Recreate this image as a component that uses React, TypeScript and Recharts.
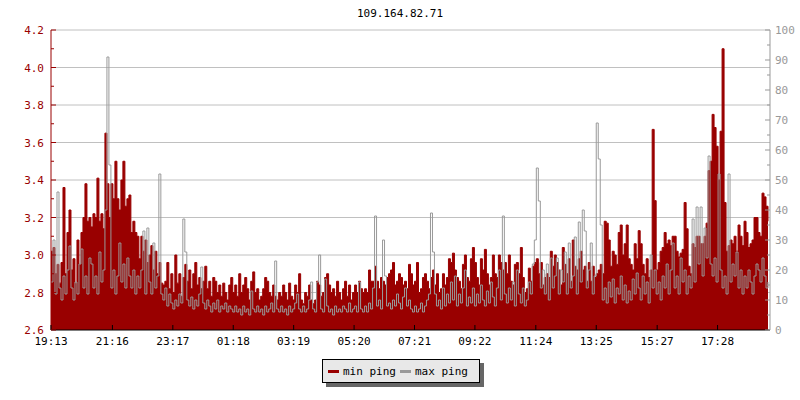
import { ComposedChart, Area, Line, XAxis, YAxis, CartesianGrid } from "recharts";

const TITLE = "109.164.82.71";

// x axis: minutes since 19:13
const TIME_TICKS = [0, 123, 244, 365, 486, 607, 728, 849, 971, 1092, 1214, 1335];
const TIME_LABELS = ["19:13", "21:16", "23:17", "01:18", "03:19", "05:20", "07:21", "09:22", "11:24", "13:25", "15:27", "17:28"];
const SAMPLE_STEP = 4;

const LEFT_TICKS = [2.6, 2.7, 2.8, 2.9, 3.0, 3.1, 3.2, 3.3, 3.4, 3.5, 3.6, 3.7, 3.8, 3.9, 4.0, 4.1, 4.2];
const LEFT_GRID = [2.8, 3.0, 3.2, 3.4, 3.6, 3.8, 4.0, 4.2];
const RIGHT_TICKS = [0, 5, 10, 15, 20, 25, 30, 35, 40, 45, 50, 55, 60, 65, 70, 75, 80, 85, 90, 95, 100];

// min ping (left axis)
const MIN_PING = [
  3.02, 3.04, 2.9, 2.95, 2.85, 2.96, 3.36, 2.9, 3.12, 3.24,
  2.92, 2.98, 2.85, 3.08, 2.95, 3.12, 3.2, 3.38, 3.18, 3.2,
  3.15, 3.22, 3.2, 3.41, 3.18, 3.22, 3.14, 3.65, 3.38, 3.2,
  3.38, 3.3, 3.5, 3.3, 3.24, 3.4, 3.5, 3.26, 3.3, 3.32,
  3.12, 3.18, 3.12, 3.1, 2.98, 3.1, 3.02, 3.08, 2.96, 3.0,
  3.05, 2.92, 3.02, 2.9, 2.96, 2.85, 2.84, 2.86, 2.96, 2.82,
  2.9, 2.8, 3.0, 2.85, 2.9, 2.78, 2.88, 2.95, 2.86, 2.92,
  2.82, 2.9, 2.96, 2.84, 2.88, 2.82, 2.86, 2.94, 2.82, 2.86,
  2.78, 2.88, 2.86, 2.8, 2.84, 2.78, 2.85, 2.8, 2.76, 2.84,
  2.88, 2.8, 2.84, 2.78, 2.9, 2.8, 2.84, 2.88, 2.82, 2.76,
  2.86, 2.91, 2.8, 2.82, 2.76, 2.78, 2.82, 2.88, 2.86, 2.8,
  2.78, 2.84, 2.78, 2.76, 2.8, 2.78, 2.84, 2.8, 2.76, 2.85,
  2.78, 2.76, 2.84, 2.8, 2.9, 2.76, 2.74, 2.8, 2.78, 2.84,
  2.76, 2.74, 2.76, 2.86, 2.84, 2.78, 2.8, 2.88, 2.9, 2.84,
  2.8, 2.82, 2.78, 2.86, 2.8, 2.76, 2.82, 2.86, 2.78, 2.84,
  2.76, 2.8, 2.84, 2.8, 2.86, 2.82, 2.8, 2.82, 2.8, 2.92,
  2.86, 2.86, 2.94, 2.86, 2.82, 2.88, 2.86, 2.84, 2.88, 2.9,
  2.92, 2.96, 2.84, 2.86, 2.9, 2.88, 2.84, 2.86, 2.82, 2.95,
  2.9, 2.84, 2.86, 2.96, 2.8, 2.82, 2.88, 2.9, 2.86, 2.82,
  2.88, 2.92, 2.84, 2.9, 2.8, 2.82, 2.9, 2.84, 2.88, 2.98,
  2.96, 3.01, 2.92, 2.88, 2.86, 2.82, 2.95, 3.0, 2.88, 2.86,
  2.98, 3.04, 2.96, 2.88, 2.84, 2.98, 2.92, 3.03, 2.9, 2.84,
  2.88, 3.0, 2.9, 2.88, 3.0, 2.96, 2.92, 2.96, 2.9, 3.0,
  2.86, 2.84, 2.95, 2.96, 2.9, 3.04, 2.88, 2.8, 2.82, 2.93,
  2.86, 2.94, 2.96, 2.98, 2.9, 2.96, 2.84, 2.88, 2.9, 2.88,
  3.02, 2.94, 3.0, 2.96, 2.92, 2.84, 3.04, 2.95, 2.9, 2.98,
  2.86, 3.08, 2.94, 2.92, 2.98, 3.02, 2.92, 2.94, 2.86, 2.96,
  2.86, 2.94, 2.88, 2.9, 2.92, 2.95, 2.9, 3.18, 3.17, 3.08,
  2.94, 3.02, 3.0, 2.95, 3.12, 3.16, 3.0, 3.06, 3.16, 2.98,
  2.95, 2.92, 3.06, 2.98, 3.13, 3.06, 2.95, 2.9, 2.98, 2.88,
  2.92, 3.67, 3.29, 2.92, 2.96, 3.02, 3.04, 3.12, 3.06, 3.08,
  3.05, 3.1, 3.1, 3.02, 2.99, 3.01, 3.03, 3.28, 3.14, 2.94,
  2.9, 3.06, 3.04, 3.1, 3.1, 3.06, 3.06, 3.1, 3.17, 3.45,
  3.5, 3.75, 3.68, 3.58, 3.4, 3.66, 4.1, 3.28, 3.02, 3.05,
  3.08, 3.06, 3.1, 3.02, 3.16, 3.1, 3.05, 3.18, 3.12, 3.04,
  3.06, 3.08, 3.2, 3.2, 3.12, 3.1, 3.33, 3.31, 3.26, 3.18,
];

// max ping (right axis, ms)
const MAX_PING = [
  16, 30, 12, 46, 14, 10, 18, 12, 20, 28,
  14, 10, 16, 12, 22, 27, 14, 18, 12, 24,
  22, 14, 18, 12, 26, 16, 20, 40, 91, 55,
  14, 20, 12, 18, 29, 16, 22, 14, 24, 18,
  14, 20, 12, 18, 14, 20, 33, 12, 34, 16,
  12, 29, 14, 18, 52, 12, 10, 14, 8, 12,
  9, 7, 10, 8, 12, 9, 37, 26, 10, 8,
  11, 7, 10, 8, 12, 21, 9, 7, 10, 8,
  6, 9, 7, 10, 6, 8, 7, 9, 6, 8,
  7, 6, 8, 6, 7, 5, 8, 6, 7, 5,
  13, 7, 6, 8, 6, 7, 5, 8, 6, 7,
  9, 6, 23, 7, 6, 8, 6, 7, 5, 8,
  6, 7, 9, 12, 7, 6, 8, 6, 7, 10,
  16, 7, 6, 16, 25, 7, 6, 17, 8, 6,
  7, 5, 8, 6, 7, 6, 8, 7, 6, 9,
  6, 7, 8, 6, 16, 7, 6, 8, 6, 9,
  7, 14, 38, 8, 10, 7, 30, 18, 8, 9,
  7, 10, 8, 12, 9, 7, 11, 14, 8, 10,
  7, 6, 8, 6, 7, 9, 6, 8, 10, 12,
  39, 26, 12, 8, 10, 7, 14, 8, 12, 9,
  16, 10, 18, 8, 12, 9, 14, 20, 8, 11,
  9, 14, 8, 12, 9, 15, 10, 8, 13, 9,
  16, 11, 8, 14, 20, 10, 38, 12, 9, 14,
  10, 16, 8, 20, 12, 9, 14, 8, 10, 16,
  12, 22, 30, 54, 43, 14, 20, 12, 22, 10,
  24, 14, 18, 24, 12, 20, 16, 26, 12, 29,
  14, 18, 31, 12, 36, 16, 40, 33, 14, 20,
  29, 12, 18, 69, 57, 35, 10, 14, 9, 16,
  11, 17, 9, 14, 12, 18, 10, 15, 9, 13,
  10, 17, 12, 19, 14, 10, 18, 12, 16, 9,
  25, 14, 20, 12, 16, 10, 18, 14, 22, 12,
  20, 29, 14, 18, 12, 24, 16, 20, 12, 18,
  14, 37, 16, 41, 22, 41, 18, 34, 24, 58,
  22, 18, 24, 16, 52, 20, 14, 18, 12, 52,
  16, 22, 18, 26, 14, 20, 12, 18, 14, 20,
  16, 12, 18, 22, 20, 16, 24, 18, 14, 16,
];

const data = MIN_PING.map((v, i) => ({ t: i * SAMPLE_STEP, min: v, max: MAX_PING[i] }));

const RED = "#990000";
const GRAY = "#999999";
const FONT = "'DejaVu Sans Mono', monospace";
const PLOT_LEFT = 51;
const PLOT_RIGHT = 770;
const PLOT_BOTTOM = 330;

const LeftTick = (props: any) => {
  const { y, payload } = props;
  const v = payload.value;
  const major = Math.round(v * 10) % 2 === 0;
  return (
    <g>
      <line x1={PLOT_LEFT} x2={PLOT_LEFT + (major ? 5 : 3)} y1={y} y2={y} stroke={RED} />
      {major && (
        <text x={44} y={y + 4} textAnchor="end" fill={RED} fontSize={11} fontFamily={FONT}>
          {v.toFixed(1)}
        </text>
      )}
    </g>
  );
};

const RightTick = (props: any) => {
  const { y, payload } = props;
  const v = payload.value;
  const major = v % 10 === 0;
  return (
    <g>
      <line x1={PLOT_RIGHT} x2={PLOT_RIGHT - (major ? 5 : 3)} y1={y} y2={y} stroke={GRAY} />
      {major && (
        <text x={775} y={y + 4} textAnchor="start" fill={GRAY} fontSize={11} fontFamily={FONT}>
          {v}
        </text>
      )}
    </g>
  );
};

const TimeTick = (props: any) => {
  const { x, payload } = props;
  const label = TIME_LABELS[TIME_TICKS.indexOf(payload.value)];
  return (
    <g>
      <line x1={x} x2={x} y1={PLOT_BOTTOM} y2={PLOT_BOTTOM - 5} stroke="#000" />
      <text x={x} y={345} textAnchor="middle" fill="#000" fontSize={11} fontFamily={FONT}>
        {label}
      </text>
    </g>
  );
};

export default function App() {
  return (
    <div style={{ position: "absolute", left: 0, top: 0, width: 800, height: 400, background: "#fff" }}>
      <div
        style={{
          position: "absolute",
          top: 7,
          width: 800,
          textAlign: "center",
          fontFamily: FONT,
          fontSize: 11,
          color: "#000",
        }}
      >
        {TITLE}
      </div>
      <ComposedChart width={800} height={400} data={data} margin={{ top: 30, right: 0, bottom: 40, left: 6 }}>
        <CartesianGrid yAxisId="left" vertical={false} horizontalValues={LEFT_GRID} stroke="#c0c0c0" />
        <XAxis
          dataKey="t"
          type="number"
          domain={[0, 1440]}
          ticks={TIME_TICKS}
          tick={<TimeTick />}
          tickLine={false}
          axisLine={{ stroke: "#000" }}
          height={30}
          interval={0}
        />
        <YAxis
          yAxisId="left"
          domain={[2.6, 4.2]}
          ticks={LEFT_TICKS}
          tick={<LeftTick />}
          tickLine={false}
          axisLine={{ stroke: RED }}
          width={45}
          interval={0}
          allowDataOverflow
        />
        <YAxis
          yAxisId="right"
          orientation="right"
          domain={[0, 100]}
          ticks={RIGHT_TICKS}
          tick={<RightTick />}
          tickLine={false}
          axisLine={{ stroke: GRAY }}
          width={30}
          interval={0}
          allowDataOverflow
        />
        <Area
          yAxisId="left"
          dataKey="min"
          type="stepAfter"
          stroke={RED}
          fill={RED}
          fillOpacity={1}
          dot={false}
          activeDot={false}
          isAnimationActive={false}
        />
        <Line
          yAxisId="right"
          dataKey="max"
          type="stepAfter"
          stroke={GRAY}
          strokeWidth={1}
          dot={false}
          activeDot={false}
          isAnimationActive={false}
        />
      </ComposedChart>
      <div
        style={{
          position: "absolute",
          left: 322,
          top: 359,
          width: 151,
          height: 22,
          border: "1px solid #000",
          background: "#e8e8e8",
          boxShadow: "4px 4px 0 #666",
          fontFamily: FONT,
          fontSize: 11,
          display: "flex",
          alignItems: "center",
          paddingLeft: 5,
          boxSizing: "content-box",
        }}
      >
        <span style={{ display: "inline-block", width: 11, height: 3, background: RED, marginRight: 4 }} />
        <span style={{ marginRight: 4 }}>min ping</span>
        <span style={{ display: "inline-block", width: 11, height: 3, background: GRAY, marginRight: 4 }} />
        <span>max ping</span>
      </div>
    </div>
  );
}
